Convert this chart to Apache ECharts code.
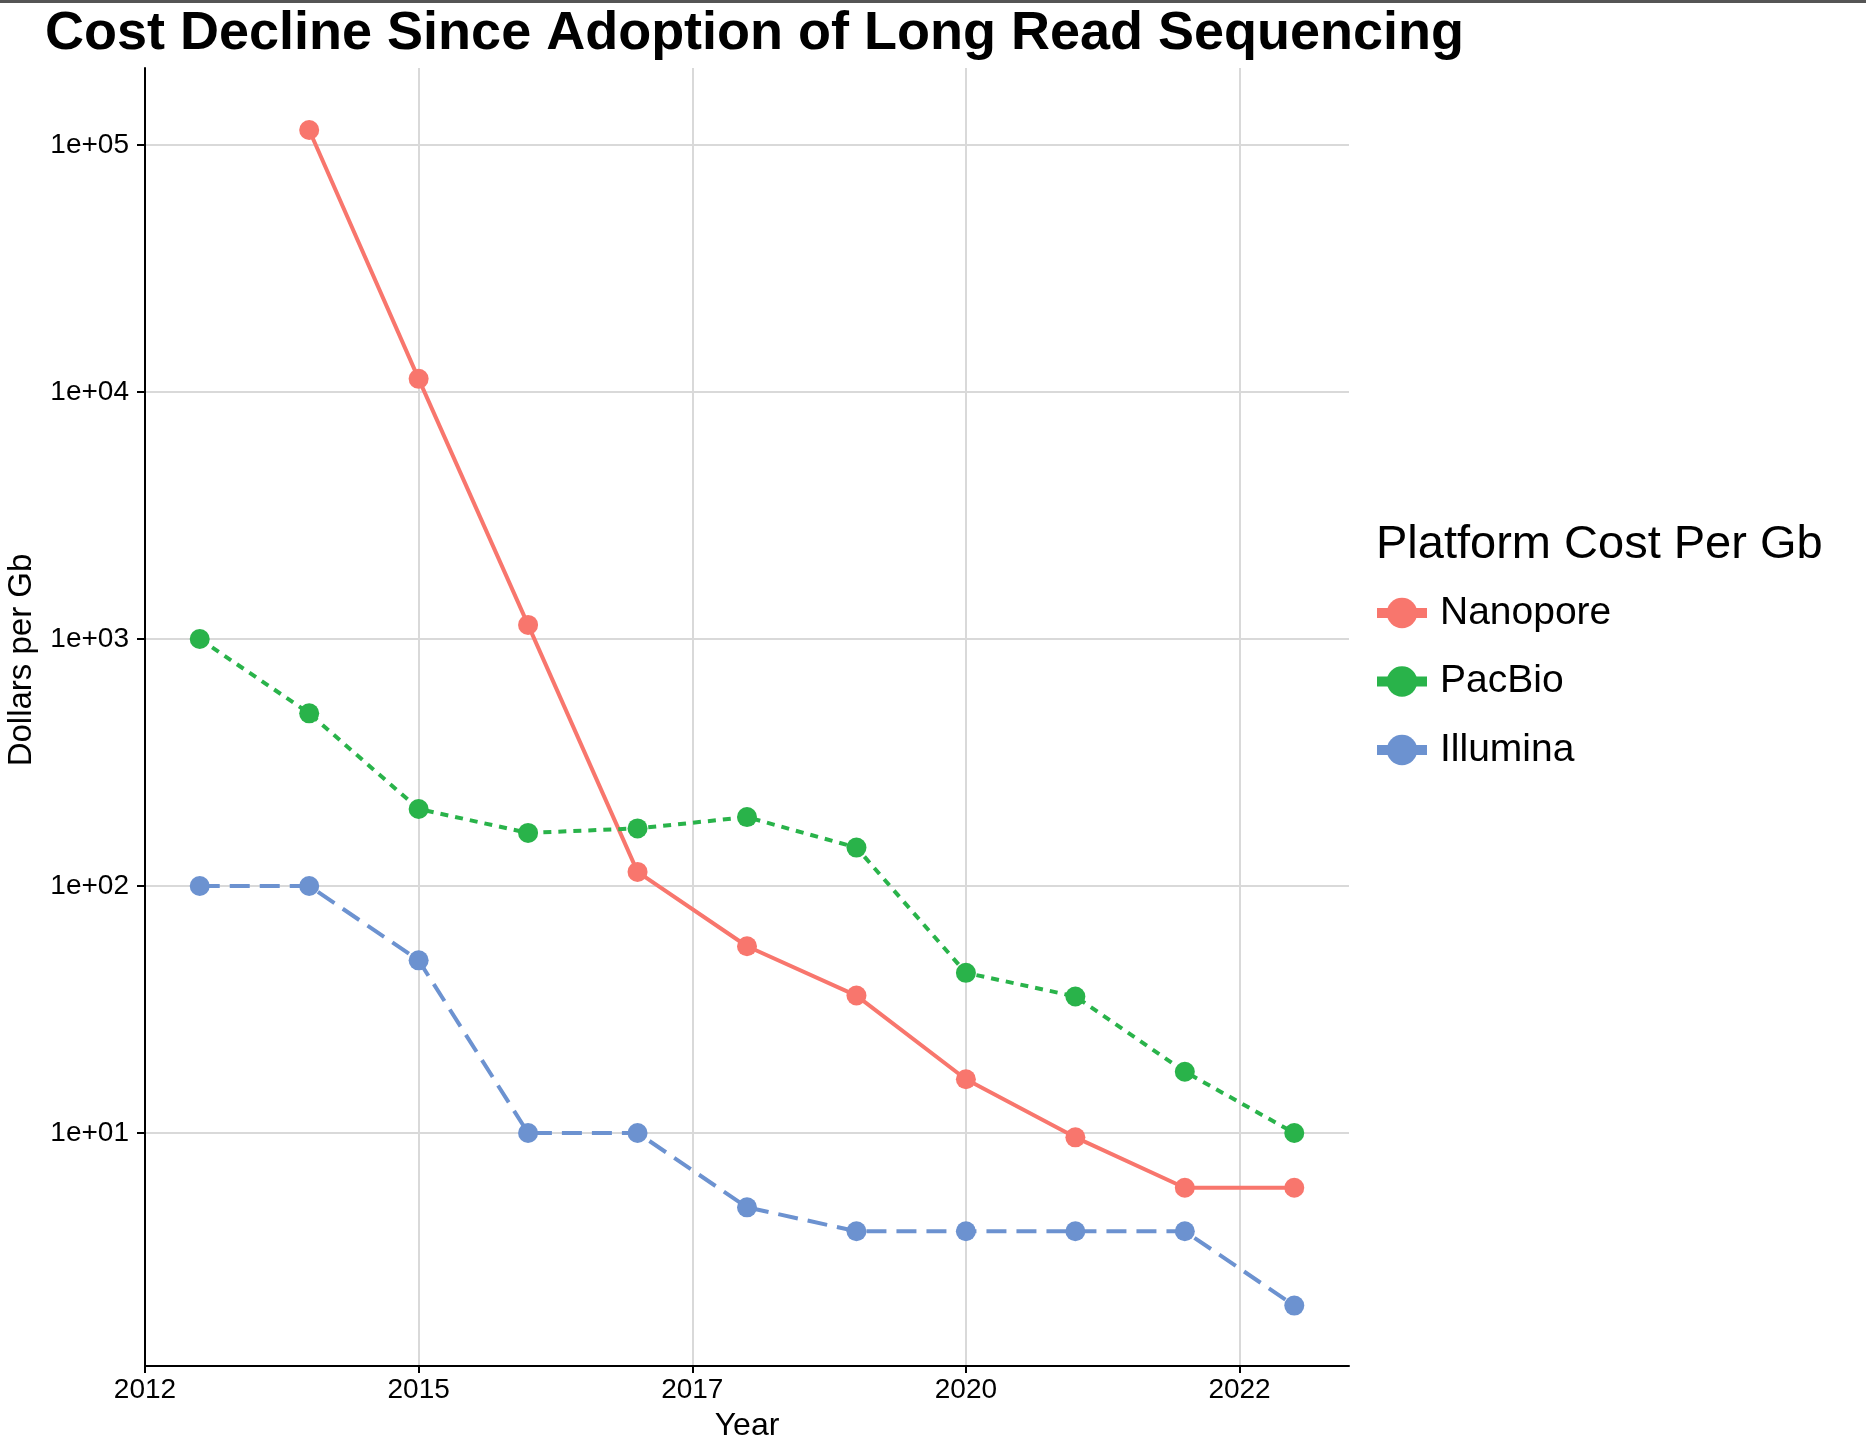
<!DOCTYPE html>
<html><head><meta charset="utf-8">
<script src="https://cdn.jsdelivr.net/npm/echarts@6/dist/echarts.min.js"></script>
<style>html,body{margin:0;padding:0;background:#fff}#c{width:1866px;height:1442px}</style>
</head><body><div id="c"></div>
<script>
const years = [2013, 2014, 2015, 2016, 2017, 2018, 2019, 2020, 2021, 2022, 2023];
const nanopore = [null, 115000, 11300, 1140, 114, 57, 36, 16.5, 9.6, 6, 6];
const pacbio = [1000, 500, 205, 164, 171, 190, 143, 44.5, 35.7, 17.7, 10];
const illumina = [100, 100, 50, 10, 10, 5, 4, 4, 4, 4, 2];
const seriesNames = ['Nanopore', 'PacBio', 'Illumina'];
const xTickValues = [2012.5, 2015, 2017.5, 2020, 2022.5];
const xTickLabels = ['2012', '2015', '2017', '2020', '2022'];
const yTickValues = [10, 100, 1000, 10000, 100000];
const yTickLabels = ['1e+01', '1e+02', '1e+03', '1e+04', '1e+05'];

const FONT = "'Liberation Sans', Arial, Helvetica, sans-serif";
const colors = ['#F8766D', '#29B34A', '#6C92D0'];
const dashes = ['solid', [8, 7], [20, 10]];

function pairs(arr) {
  return years.map((y, i) => [y, arr[i]]).filter(p => p[1] != null);
}
const values = [nanopore, pacbio, illumina];

const chart = echarts.init(document.getElementById('c'), null, {renderer: 'canvas'});
chart.setOption({
  animation: false,
  backgroundColor: '#fff',
  title: [
    {text: 'Cost Decline Since Adoption of Long Read Sequencing', left: 45, top: 7, padding: 0,
     textStyle: {fontFamily: FONT, fontWeight: 'bold', fontSize: 54, lineHeight: 54, color: '#000'}},
    {text: 'Platform Cost Per Gb', left: 1376, top: 522, padding: 0,
     textStyle: {fontFamily: FONT, fontWeight: 'normal', fontSize: 47, lineHeight: 47, color: '#000'}}
  ],
  graphic: [
    {type: 'rect', shape: {x: 0, y: 0, width: 1866, height: 3}, style: {fill: '#555'}},
    {type: 'text', x: 22, y: 660, rotation: Math.PI / 2,
     style: {text: 'Dollars per Gb', font: "33px 'Liberation Sans', Arial, sans-serif", fill: '#000',
             textAlign: 'center', textVerticalAlign: 'middle'}}
  ],
  legend: {
    data: seriesNames, orient: 'vertical', left: 1372, top: 593, padding: 0,
    itemWidth: 50, itemHeight: 38, itemGap: 28.5, selectedMode: false,
    lineStyle: {type: 'solid', width: 10},
    textStyle: {fontFamily: FONT, fontSize: 39, lineHeight: 40, color: '#000', padding: [0, 0, 0, 8]}
  },
  grid: {left: 145, right: 517, top: 68, bottom: 76, containLabel: false, outerBoundsMode: 'none'},
  xAxis: {
    type: 'value', min: 2012.5, max: 2023.5, interval: 2.5,
    name: 'Year', nameLocation: 'middle', nameGap: 44,
    nameTextStyle: {fontFamily: FONT, fontSize: 32, color: '#000'},
    axisLine: {show: true, lineStyle: {color: '#000', width: 2}},
    axisTick: {show: true, length: 7, lineStyle: {color: '#000', width: 2}, customValues: xTickValues},
    axisLabel: {customValues: xTickValues, margin: 10, fontFamily: FONT, fontSize: 28, color: '#000',
      formatter: v => { const i = xTickValues.findIndex(t => Math.abs(t - v) < 1e-6); return i >= 0 ? xTickLabels[i] : ''; }},
    splitLine: {show: true, lineStyle: {color: '#D9D9D9', width: 2}}
  },
  yAxis: {
    type: 'log', logBase: 10, min: 1.139, max: 204900,
    axisLine: {show: true, lineStyle: {color: '#000', width: 2}},
    axisTick: {show: true, length: 8, lineStyle: {color: '#000', width: 2}, customValues: yTickValues},
    axisLabel: {customValues: yTickValues, margin: 16, fontFamily: FONT, fontSize: 28, color: '#000',
      formatter: v => { const i = yTickValues.findIndex(t => Math.abs(Math.log10(t) - Math.log10(v)) < 1e-6); return i >= 0 ? yTickLabels[i] : ''; }},
    splitLine: {show: true, lineStyle: {color: '#D9D9D9', width: 2}}
  },
  series: seriesNames.map((name, k) => ({
    name: name, type: 'line', data: pairs(values[k]),
    symbol: 'circle', symbolSize: 20, showSymbol: true,
    itemStyle: {color: colors[k]},
    lineStyle: {color: colors[k], width: 4, type: dashes[k]},
    emphasis: {disabled: true}
  }))
});
</script></body></html>
